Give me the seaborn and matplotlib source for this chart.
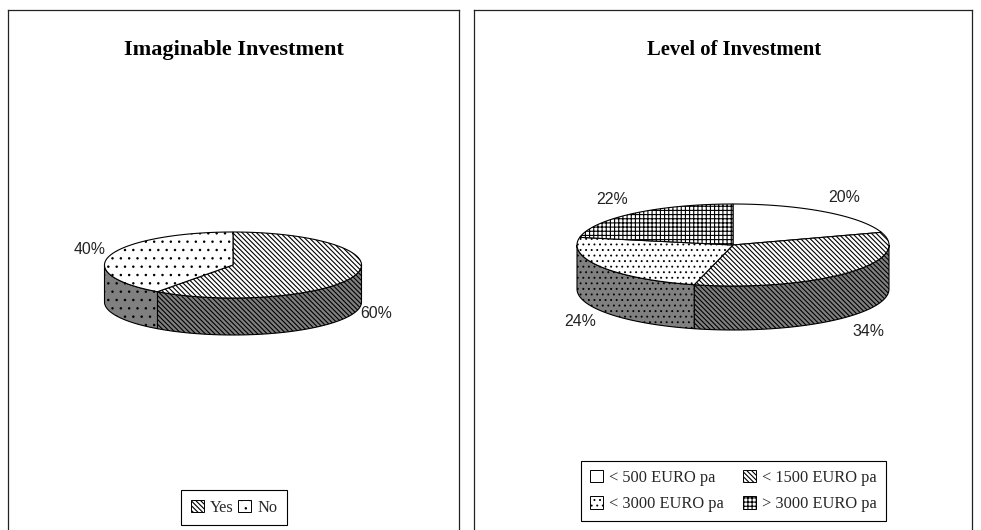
import numpy as np
import matplotlib
matplotlib.use("Agg")
import matplotlib.pyplot as plt
import matplotlib.hatch as mhatch
from matplotlib.patches import Patch
import seaborn as sns

# --- data ---
left_title = "Imaginable Investment"
left_labels = ["Yes", "No"]
left_values = [60, 40]
left_hatches = ["\\\\\\\\\\\\\\", ".."]

right_title = "Level of Investment"
right_labels = ["< 500 EURO pa", "< 1500 EURO pa", "< 3000 EURO pa", "> 3000 EURO pa"]
right_values = [20, 34, 24, 22]
right_hatches = ["", "\\\\\\\\\\\\\\", "...", "++++"]

SIDE = "#808080"
W, H = 981, 530

# the built in "." hatch gets too fat at this size
mhatch.SmallFilledCircles.size = 0.08

sns.set_theme(style="white")
plt.rcParams["font.family"] = ["Liberation Serif", "DejaVu Serif"]
plt.rcParams["hatch.linewidth"] = 0.8
plt.rcParams["patch.linewidth"] = 0.8


def panel(fig, x0, x1, y0, y1):
    # axes in reference pixels, y pointing down
    ax = fig.add_axes([x0 / W, 1 - y1 / H, (x1 - x0) / W, (y1 - y0) / H])
    ax.set_xlim(x0, x1)
    ax.set_ylim(y1, y0)
    ax.set_xticks([])
    ax.set_yticks([])
    for s in ax.spines.values():
        s.set_color("#222222")
        s.set_linewidth(0.9)
    return ax


def pie3d(ax, values, hatches, cx, cy, rx, ry, depth):
    # clockwise from 12 o'clock, like the old spreadsheet pies
    edges = np.radians(np.cumsum([0] + list(values)) * 3.6)
    for a, b, hatch in zip(edges[:-1], edges[1:], hatches):
        # wall, only the part of the wedge that faces the viewer
        lo, hi = max(a, np.pi / 2), min(b, 3 * np.pi / 2)
        if lo < hi:
            t = np.linspace(lo, hi, 80)
            x = cx + rx * np.sin(t)
            y = cy - ry * np.cos(t)
            ax.fill(np.r_[x, x[::-1]], np.r_[y, y[::-1] + depth],
                    facecolor=SIDE, edgecolor="black", hatch=hatch, lw=0.8, zorder=2)
        t = np.linspace(a, b, 160)
        ax.fill(np.r_[cx, cx + rx * np.sin(t)], np.r_[cy, cy - ry * np.cos(t)],
                facecolor="white", edgecolor="black", hatch=hatch, lw=0.8, zorder=3)


def legend(ax, labels, hatches, anchor, **kw):
    # matplotlib fills columns first, the reference reads row by row
    order = [0, 2, 1, 3] if len(labels) == 4 else [0, 1]
    handles = [Patch(facecolor="white", edgecolor="black", hatch=hatches[i], lw=0.7) for i in order]
    leg = ax.legend(handles, [labels[i] for i in order], ncol=2, loc="center",
                    bbox_to_anchor=anchor, bbox_transform=ax.transData, fancybox=False,
                    framealpha=1, edgecolor="black", fontsize=11.8, handlelength=0.8,
                    handleheight=0.8, borderaxespad=0, **kw)
    leg.get_frame().set_linewidth(0.8)


fig = plt.figure(figsize=(W / 100, H / 100), dpi=100, facecolor="white")

ax1 = panel(fig, 8, 459, 10, 540)
ax2 = panel(fig, 474, 972, 10, 540)

pie3d(ax1, left_values, left_hatches, 233, 265, 128.5, 33, 37)
pie3d(ax2, right_values, right_hatches, 733, 245, 156, 41, 44)

ax1.text(234, 50, left_title, ha="center", va="center", fontsize=16, fontweight="bold", color="black")
ax2.text(734, 50, right_title, ha="center", va="center", fontsize=14.9, fontweight="bold", color="black")

pct_font = dict(family=["Liberation Sans"], fontsize=11.4, ha="center", va="center", color="#222222")
for ax, lbl, px, py in [
    (ax1, left_values[0], 376, 314), (ax1, left_values[1], 90, 250),
    (ax2, right_values[0], 844, 197), (ax2, right_values[1], 868, 331),
    (ax2, right_values[2], 580, 322), (ax2, right_values[3], 612, 199),
]:
    ax.text(px, py, f"{lbl}%", **pct_font)

legend(ax1, left_labels, left_hatches, (234, 507.5), columnspacing=0.3,
       handletextpad=0.35, borderpad=0.6)
legend(ax2, right_labels, right_hatches, (733.5, 491), columnspacing=1.2,
       handletextpad=0.35, borderpad=0.55, labelspacing=0.65)

fig.savefig("out.png", dpi=100, facecolor="white")
